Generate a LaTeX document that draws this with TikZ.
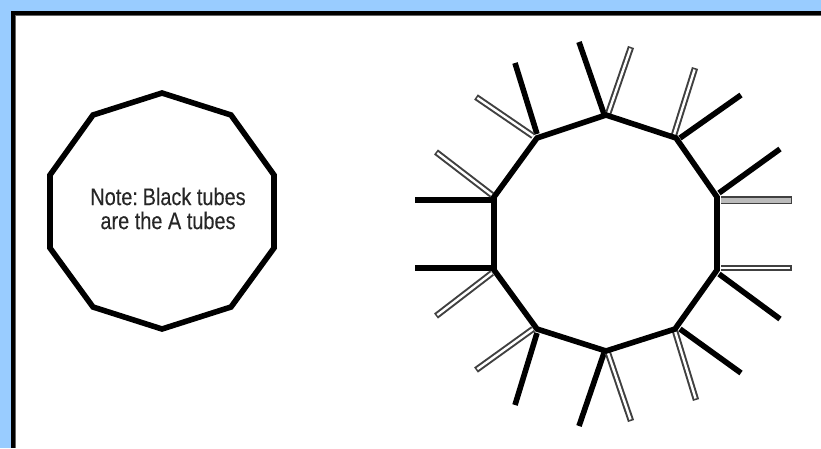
\documentclass[tikz,border=0pt]{standalone}
\usepackage{fontspec}
\setmainfont{Liberation Sans}[FakeStretch=0.83,FakeBold=0.12]
\definecolor{skyback}{HTML}{99CCFF}
\definecolor{tubeedge}{HTML}{404040}
\definecolor{tubegrey}{HTML}{BBBBBB}
\tikzset{
  wall/.style={draw=black,line width=5.6pt,line join=miter,fill=none},
  atube/.style={draw=black,line width=5.6pt,line cap=butt},
  btubeout/.style={draw=tubeedge,line width=6.4pt},
  btubein/.style={draw=white,line width=2.4pt,shorten >=1.6pt,shorten <=0pt},
  ctubeout/.style={draw=tubeedge,line width=7.6pt},
  ctubein/.style={draw=tubegrey,line width=5pt,shorten >=1.4pt,shorten <=0pt},
  note/.style={text=black!85,align=center,font=\fontsize{24}{24}\selectfont,inner sep=0pt}
}
\newcommand{\btube}[2]{\draw[btubeout] (#1) -- (#2);\draw[btubein] (#1) -- (#2);}
\begin{document}
\begin{tikzpicture}[x=1pt,y=-1pt]
\useasboundingbox (0,0) rectangle (821,448);
\fill[skyback] (0,0) rectangle (821,448);
\fill[white] (14,14) rectangle (821,448);
\fill[black!60] (14,14) rectangle (821,16);
\fill[black!60] (14,14) rectangle (16,448);
\fill[black] (11,11) rectangle (821,14.8);
\fill[black] (11,11) rectangle (14.8,448);
% left polygon
\coordinate (l1) at (162,93); \coordinate (l2) at (231,115); \coordinate (l3) at (274,175);
\coordinate (l4) at (274,248); \coordinate (l5) at (231,307); \coordinate (l6) at (162,329);
\coordinate (l7) at (93,307); \coordinate (l8) at (50,248); \coordinate (l9) at (50,175);
\coordinate (l10) at (93,115);
\draw[wall] (l1)--(l2)--(l3)--(l4)--(l5)--(l6)--(l7)--(l8)--(l9)--(l10)--cycle;
\node[note] (noteText) at (168,208.5) {{\spaceskip=0.12em Note: }Black tubes\\are the A tubes};
% tube ends and starts
\coordinate (a1s) at (537,134); \coordinate (a1e) at (515,63);
\coordinate (a2s) at (604,114); \coordinate (a2e) at (579,42);
\coordinate (a3s) at (680,138); \coordinate (a3e) at (741,95);
\coordinate (a4s) at (719,193); \coordinate (a4e) at (780,149);
\coordinate (a5s) at (719,274); \coordinate (a5e) at (780,319);
\coordinate (a6s) at (680,329); \coordinate (a6e) at (741,373);
\coordinate (a7s) at (604,353); \coordinate (a7e) at (579,426);
\coordinate (a8s) at (537,333); \coordinate (a8e) at (515,405);
\coordinate (a9s) at (494,268); \coordinate (a9e) at (415,268);
\coordinate (a10s) at (494,200); \coordinate (a10e) at (415,200);
\coordinate (b1s) at (608,114); \coordinate (b1e) at (631,47);
\coordinate (b2s) at (674,135); \coordinate (b2e) at (695,68);
\coordinate (b3s) at (721,268); \coordinate (b3e) at (792,268);
\coordinate (b4s) at (675,331); \coordinate (b4e) at (696,400);
\coordinate (b5s) at (608,353); \coordinate (b5e) at (631,421);
\coordinate (b6s) at (533,329); \coordinate (b6e) at (476,370);
\coordinate (b7s) at (492,273); \coordinate (b7e) at (436,316);
\coordinate (b8s) at (492,195); \coordinate (b8e) at (436,152);
\coordinate (b9s) at (533,136); \coordinate (b9e) at (476,97);
\coordinate (c1s) at (721,200); \coordinate (c1e) at (792,200);
\foreach \n in {1,...,10} {\draw[atube] (a\n s) -- (a\n e);}
\foreach \n in {1,...,9} {\btube{b\n s}{b\n e}}
\draw[ctubeout] (c1s) -- (c1e);
\draw[ctubein] (c1s) -- (c1e);
% right polygon
\coordinate (r1) at (606,115); \coordinate (r2) at (676,138); \coordinate (r3) at (717,197);
\coordinate (r4) at (717,270); \coordinate (r5) at (675,329); \coordinate (r6) at (606,351);
\coordinate (r7) at (537,329); \coordinate (r8) at (494,270); \coordinate (r9) at (494,197);
\coordinate (r10) at (537,138);
\draw[wall] (r1)--(r2)--(r3)--(r4)--(r5)--(r6)--(r7)--(r8)--(r9)--(r10)--cycle;
\end{tikzpicture}
\end{document}
